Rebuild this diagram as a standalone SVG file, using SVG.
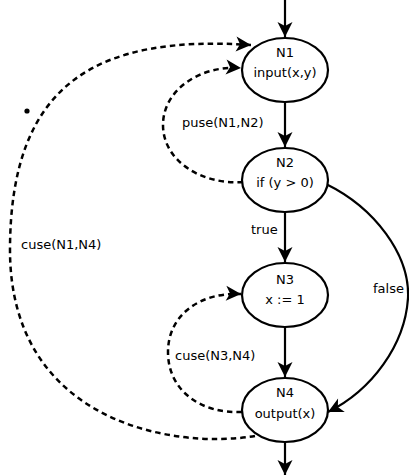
<svg xmlns="http://www.w3.org/2000/svg" width="409" height="476" viewBox="0 0 409 476">
<style>
.node ellipse{fill:#fff;stroke:#000;stroke-width:2.2}
text{font-family:"DejaVu Sans",sans-serif;font-size:13px;fill:#000}
.nt{text-anchor:middle}
.solid{fill:none;stroke:#000;stroke-width:2.2}
.dash{fill:none;stroke:#000;stroke-width:2.5;stroke-dasharray:5.5 4}
</style>
<defs>
<marker id="ah" markerUnits="userSpaceOnUse" viewBox="-16 -9 18 18" markerWidth="18" markerHeight="18" refX="0" refY="0" orient="auto">
<path d="M0,0 L-15,-7.5 L-11,0 L-15,7.5 Z" fill="#000"/>
</marker>
</defs>
<rect width="409" height="476" fill="#fff"/>
<g id="connectors">
<path class="solid" d="M285 0 L285 37" marker-end="url(#ah)"/>
<path class="solid" d="M285 102 L285 147" marker-end="url(#ah)"/>
<path class="solid" d="M285 212 L285 262" marker-end="url(#ah)"/>
<path class="solid" d="M285 327 L285 377" marker-end="url(#ah)"/>
<path class="solid" d="M285 442 L285 475" marker-end="url(#ah)"/>
<path class="solid" d="M326 184 C375 208 410 255 408 298 C405 345 372 390 328 412" marker-end="url(#ah)"/>
<path class="dash" d="M243 182 C200 185 163 160 163 125 C163 90 200 65 241 68" marker-end="url(#ah)"/>
<path class="dash" d="M242 412 C200 414 168 390 168 352 C168 315 200 292 241 294" marker-end="url(#ah)"/>
<path class="dash" d="M255 436 C170 450 10 420 10 250 C10 80 100 35 251 45" marker-end="url(#ah)"/>
<text x="251" y="234">true</text>
<text x="373" y="293">false</text>
<text x="182" y="127">puse(N1,N2)</text>
<text x="21" y="249">cuse(N1,N4)</text>
<text x="175" y="360">cuse(N3,N4)</text>
</g>
<circle cx="27" cy="111" r="2.6" fill="#000"/>
<g id="N1" class="node"><ellipse cx="285" cy="70" rx="43" ry="32"/><text class="nt" x="285" y="57">N1</text><text class="nt" x="285" y="77">input(x,y)</text></g>
<g id="N2" class="node"><ellipse cx="285" cy="180" rx="43" ry="32"/><text class="nt" x="285" y="167">N2</text><text class="nt" x="285" y="187">if (y &gt; 0)</text></g>
<g id="N3" class="node"><ellipse cx="285" cy="295" rx="43" ry="32"/><text class="nt" x="285" y="284">N3</text><text class="nt" x="285" y="304">x := 1</text></g>
<g id="N4" class="node"><ellipse cx="285" cy="410" rx="43" ry="32"/><text class="nt" x="285" y="397">N4</text><text class="nt" x="285" y="418">output(x)</text></g>
</svg>
